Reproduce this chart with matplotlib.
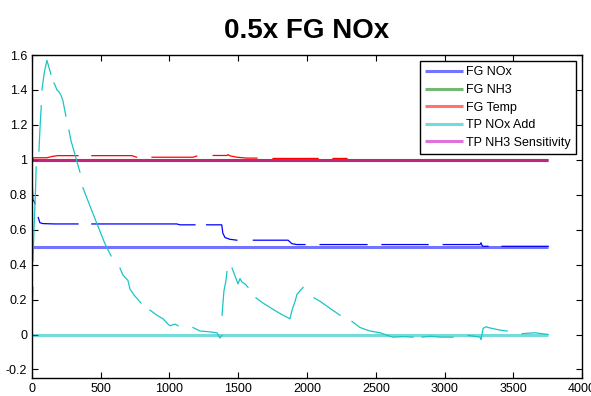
import matplotlib
matplotlib.use("Agg")
import matplotlib.pyplot as plt
import numpy as np
from matplotlib.ticker import FormatStrFormatter, MultipleLocator

plt.rcParams['font.family'] = ['Liberation Sans', 'DejaVu Sans']
nan = np.nan

# legend series (flat reference lines)
names = ['FG NOx', 'FG NH3', 'FG Temp', 'TP NOx Add', 'TP NH3 Sensitivity']
ref_levels = [0.5, 1.0, 1.0, 0.0, 1.0]
t_span = [0, 3753]

# FG NOx measured
nox_x = [0, 3, 7, 19, 22, nan,
         46, 58, 80, 167, 335, nan,
         436, 1053, 1076, 1185, nan,
         1270, 1380, 1388, 1404, 1440, 1490, nan,
         1610, 1862, 1890, 1927, 1985, nan,
         2095, 2436, nan,
         2545, 2880, nan,
         2990, 3258, 3265, 3272, 3280, 3316, nan,
         3418, 3753]
nox_y = [1.0, 0.85, 0.77, 0.76, 0.75, nan,
         0.67, 0.64, 0.635, 0.633, 0.633, nan,
         0.633, 0.633, 0.628, 0.628, nan,
         0.628, 0.628, 0.58, 0.555, 0.545, 0.54, nan,
         0.54, 0.54, 0.52, 0.515, 0.515, nan,
         0.515, 0.515, nan,
         0.515, 0.515, nan,
         0.515, 0.515, 0.525, 0.51, 0.505, 0.505, nan,
         0.505, 0.505]

# FG Temp measured
temp_x = [0, 15, 109, 150, 189, 335, nan,
          436, 727, 761, nan,
          873, 1171, 1198, nan,
          1318, 1418, 1426, 1440, 1490, 1563, 1636, nan,
          1753, 2080, nan,
          2189, 2290]
temp_y = [1.0, 1.012, 1.012, 1.02, 1.024, 1.024, nan,
          1.024, 1.024, 1.015, nan,
          1.015, 1.015, 1.022, nan,
          1.025, 1.025, 1.03, 1.023, 1.015, 1.01, 1.01, nan,
          1.008, 1.008, nan,
          1.008, 1.008]

# TP NOx Add measured
add_x = [0, 3, 8, nan,
         8, 15, 25, 31, nan,
         51, 60, 68, nan,
         73, 90, 109, 120, 138, nan,
         160, 167, 182, 196, 211, 225, 247, nan,
         269, 284, 313, 349, nan,
         371, 420, 465, 531, 575, nan,
         640, 662, 698, 713, 749, 793, nan,
         858, 909, 953, 989, 1004, 1040, 1062, nan,
         1171, 1222, 1295, 1345, 1367, 1382, nan,
         1382, 1396, 1411, 1418, nan,
         1455, 1484, 1498, 1513, 1527, 1549, 1571, nan,
         1629, 1680, 1731, 1804, 1876, 1891, 1913, 1927, 1971, nan,
         2051, 2095, 2167, 2240, nan,
         2327, 2385, 2458, 2531, 2604, 2625, 2700, 2771, nan,
         2836, 2900, 2967, 3062, nan,
         3171, 3258, 3265, 3280, 3302, 3316, 3404, 3455, nan,
         3564, 3658, 3753]
add_y = [0.0, 0.15, 0.27, nan,
         0.42, 0.6, 0.8, 0.96, nan,
         1.05, 1.2, 1.31, nan,
         1.40, 1.50, 1.57, 1.54, 1.49, nan,
         1.44, 1.43, 1.40, 1.39, 1.37, 1.34, 1.25, nan,
         1.17, 1.11, 1.03, 0.93, nan,
         0.84, 0.74, 0.65, 0.52, 0.45, nan,
         0.38, 0.34, 0.31, 0.26, 0.22, 0.18, nan,
         0.14, 0.11, 0.09, 0.06, 0.05, 0.06, 0.05, nan,
         0.04, 0.02, 0.015, 0.01, -0.02, -0.005, nan,
         0.11, 0.25, 0.31, 0.36, nan,
         0.38, 0.32, 0.29, 0.32, 0.30, 0.29, 0.27, nan,
         0.21, 0.18, 0.155, 0.12, 0.09, 0.14, 0.19, 0.23, 0.27, nan,
         0.21, 0.19, 0.15, 0.11, nan,
         0.075, 0.04, 0.02, 0.01, -0.01, -0.015, -0.012, -0.015, nan,
         -0.015, -0.01, -0.015, -0.015, nan,
         -0.005, -0.015, -0.03, 0.035, 0.045, 0.04, 0.025, 0.02, nan,
         0.005, 0.01, 0.0]

fig = plt.figure(figsize=(5.91, 3.96), dpi=100)
ax = fig.add_axes([0.054, 0.045, 0.931, 0.816])

ref_colors = ['#0000ff', '#008000', '#ff0000', '#00bfbf', '#bf00bf']
for name, lvl, c in zip(names, ref_levels, ref_colors):
    ax.plot(t_span, [lvl, lvl], color=c, alpha=0.55, lw=2.2, label=name,
            solid_capstyle='butt')

ax.plot(nox_x, nox_y, color='#0000ff', lw=0.9)
ax.plot(temp_x, temp_y, color='#ff0000', lw=0.9)
ax.plot(add_x, add_y, color='#1cc4c4', lw=0.9)

ax.set_xlim(0, 4000)
ax.set_ylim(-0.25, 1.6)
ax.xaxis.set_major_locator(MultipleLocator(500))
ax.yaxis.set_major_locator(MultipleLocator(0.2))
ax.yaxis.set_major_formatter(FormatStrFormatter('%g'))
ax.tick_params(direction='in', top=True, right=True, length=4, labelsize=9)
for s in ax.spines.values():
    s.set_linewidth(1.0)

ax.set_title('0.5x FG NOx', fontsize=20, fontweight='bold', pad=12)

leg = ax.legend(loc='upper right', fontsize=9, fancybox=False, framealpha=1,
                edgecolor='black', handlelength=3.0, handletextpad=0.3,
                labelspacing=0.45, borderaxespad=0.5, borderpad=0.4)
leg.get_frame().set_linewidth(1.0)

fig.savefig('out.png', dpi=100)
